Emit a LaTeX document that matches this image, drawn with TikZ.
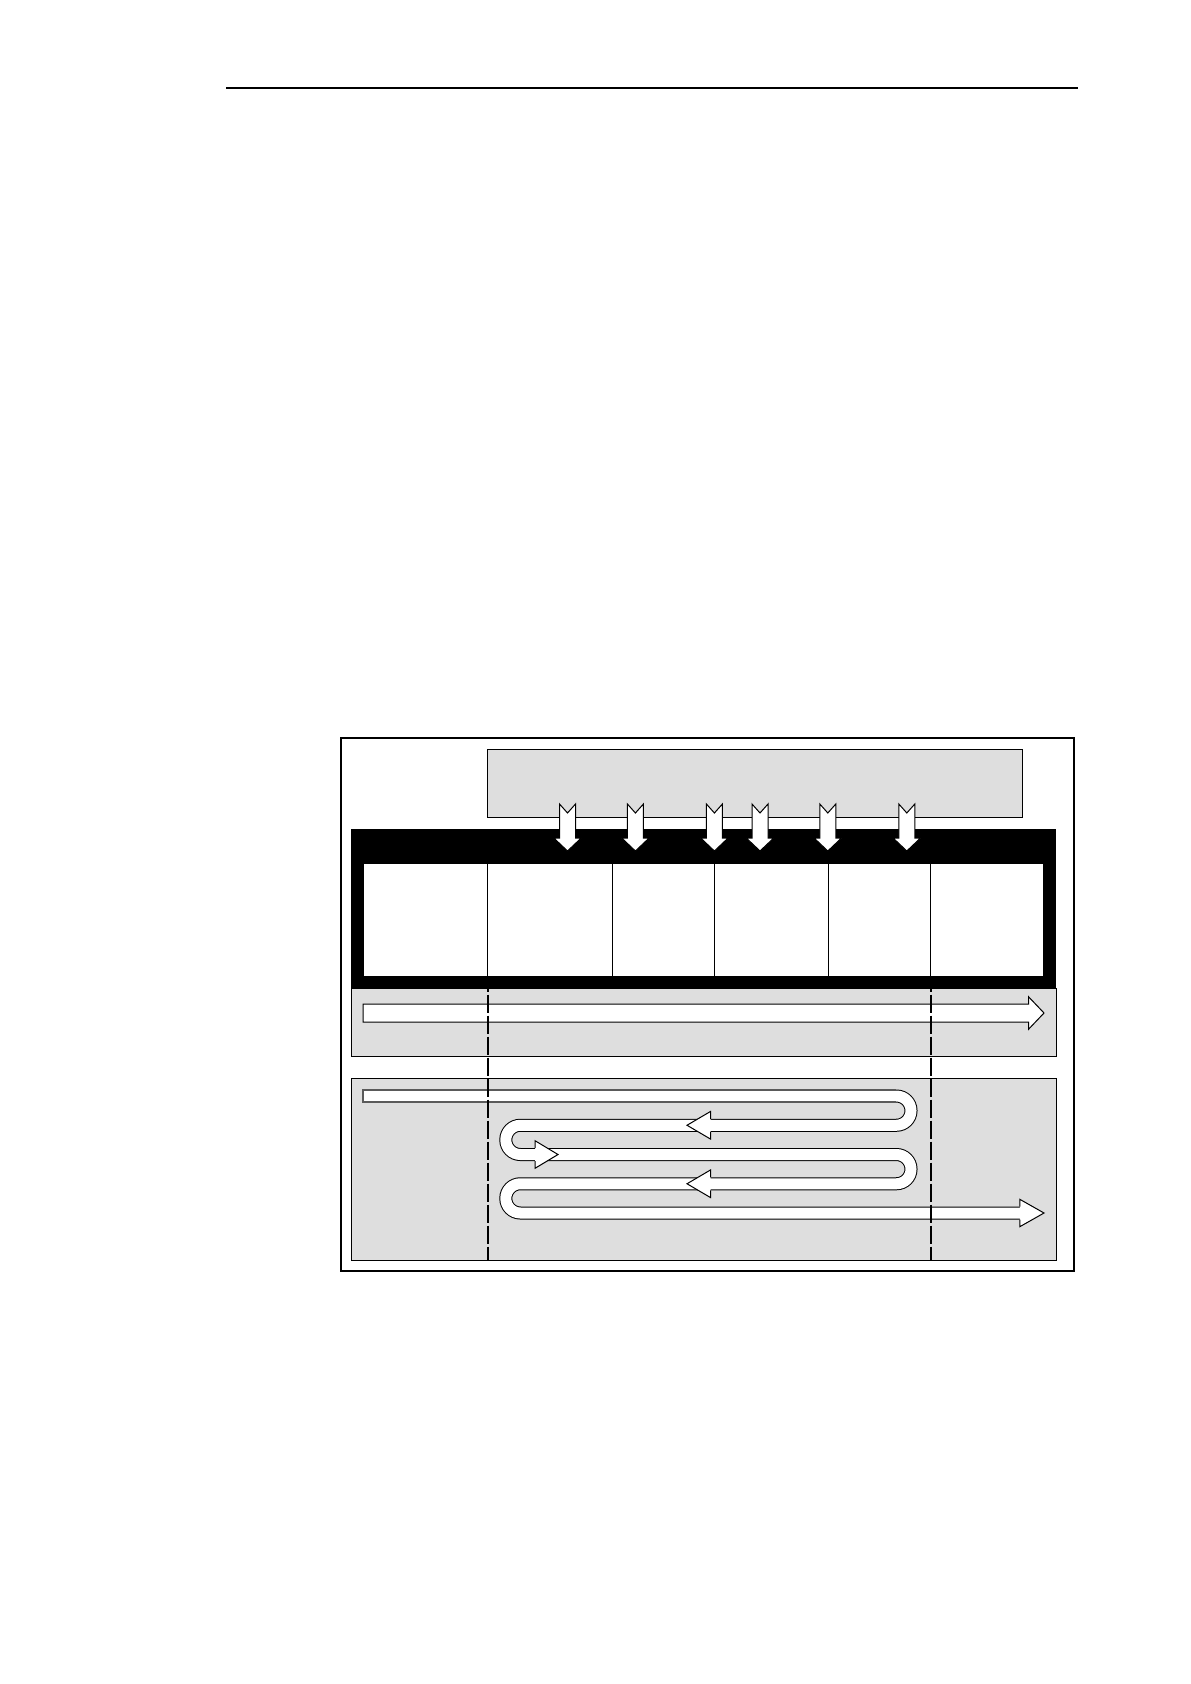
\documentclass[tikz,border=0pt]{standalone}
\usepackage{tikz}
\usetikzlibrary{arrows.meta}
\definecolor{panel}{RGB}{222,222,222}
\definecolor{laneedge}{RGB}{90,90,90}
\tikzset{
  panelbox/.style={fill=panel, draw=black, line width=0.5pt},
  blockarrow/.style={fill=white, draw=black, line width=0.5pt, line join=miter},
  tube/.style={line width=0.5pt, double=white, double distance=5.5pt, rounded corners=7.3pt},
  cutline/.style={line width=0.9pt, dash pattern=on 9.25pt off 1.25pt, dash phase=7.25pt}
}

\begin{document}
\begin{tikzpicture}[x=0.5pt, y=-0.5pt]
\useasboundingbox (0,0) rectangle (1190,1684);

\draw[line width=0.7pt] (226,88) -- (1078,88);
\draw[line width=0.6pt] (341,738) rectangle (1074,1271);

\draw[panelbox] (487,749) rectangle (1022,817);

\fill[black] (351,829) rectangle (1056,988);
\fill[white] (364,864) rectangle (1043,976);
\foreach \x in {487.5,612.6,714.4,828.3,930.6}
{
  \draw[line width=0.5pt] (\x,864) -- (\x,976);
}

\foreach \x in {567.5,635.4,714.4,760,827.8,906.8}
{
  \filldraw[blockarrow] (\x-8,804) -- (\x,813) -- (\x+8,804) -- (\x+8,838)
    -- (\x+13.7,838) -- (\x,851) -- (\x-13.7,838) -- (\x-8,838) -- cycle;
}

\draw[panelbox] (351,988) rectangle (1056,1056);
\filldraw[blockarrow] (363,1004) -- (1028.5,1004) -- (1028.5,996.7) -- (1044,1013)
  -- (1028.5,1029.3) -- (1028.5,1022) -- (363,1022) -- cycle;

\draw[panelbox] (351,1078) rectangle (1056,1260);

\draw[tube] (363,1096) -- (911,1096) -- (911,1125.25) -- (505.8,1125.25)
  -- (505.8,1154.5) -- (911,1154.5) -- (911,1183.75) -- (505.8,1183.75)
  -- (505.8,1213) -- (1020,1213);
\draw[line width=0.55pt, draw=laneedge] (896.4,1090) -- (363,1090) -- (363,1102) -- (896.4,1102);

\foreach \c in {1125.25,1183.75}
{
  \filldraw[blockarrow] (710.5,\c-6.5) -- (710.5,\c-13.8) -- (687,\c)
    -- (710.5,\c+13.8) -- (710.5,\c+6.5);
}
\filldraw[blockarrow] (535,1154.5-6.5) -- (535,1154.5-13.8) -- (558,1154.5)
  -- (535,1154.5+13.8) -- (535,1154.5+6.5);
\filldraw[blockarrow] (1019.8,1206.5) -- (1019.8,1199.3) -- (1044,1213)
  -- (1019.8,1226.7) -- (1019.8,1219.5);

\foreach \x in {487.7,930.6}
{
  \draw[cutline] (\x,988) -- (\x,1260);
}
\end{tikzpicture}
\end{document}
